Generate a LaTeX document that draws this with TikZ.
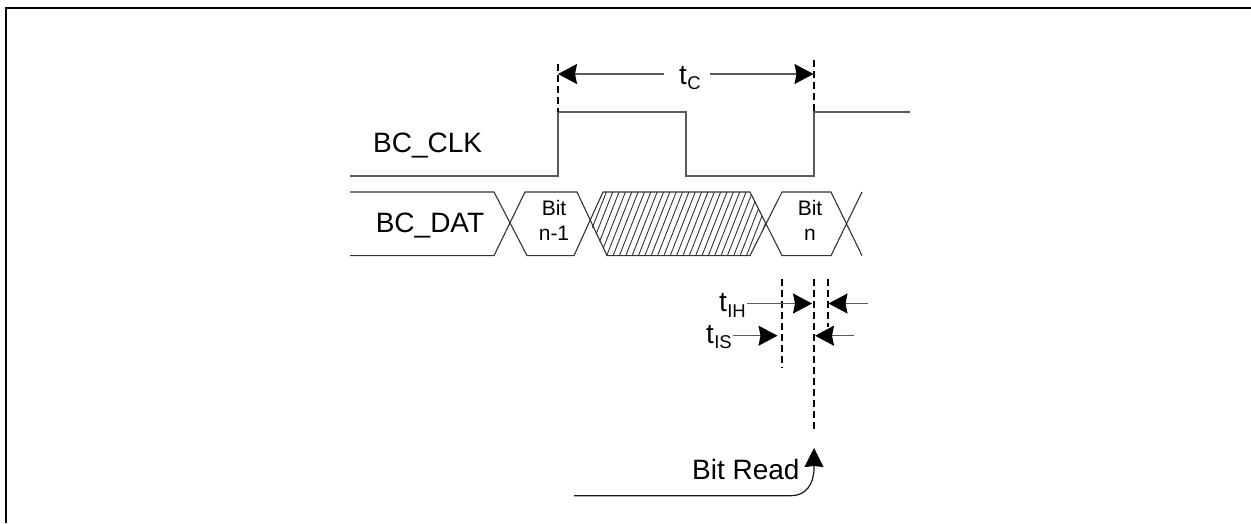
\documentclass[tikz,border=0pt]{standalone}
\usepackage{fontspec}
\setmainfont{Liberation Sans}
\usetikzlibrary{arrows.meta}
\newcommand{\bigfont}{\fontsize{28}{30}\selectfont}
\newcommand{\smallfont}{\fontsize{21}{25}\selectfont}
\newcommand{\subfont}{\fontsize{18.5}{20}\selectfont}
\newcommand{\tsub}[1]{\bigfont t\kern0.3pt\raisebox{-5.5pt}{\subfont #1}}
\tikzset{
  x=1pt,y=-1pt,
  wave/.style={draw=black!65,line width=1.5pt},
  dataline/.style={draw=black!80,line width=1.1pt},
  hatchline/.style={draw=black!80,line width=0.9pt},
  guide/.style={draw=black,line width=1.6pt,dash pattern=on 7pt off 4pt},
  dimarrow/.style={draw=black!65,line width=1.4pt,-{Stealth[length=19pt,width=20pt,inset=2pt,black]}},
  plainlabel/.style={inner sep=0pt,anchor=base},
}
\begin{document}
\begin{tikzpicture}[line join=miter]
\useasboundingbox (0,0) rectangle (1251,523);
\coordinate (fa) at (6,523); \coordinate (fb) at (6,8); \coordinate (fc) at (1251,8);
\draw[black,line width=2pt] (fa) -- (fb) -- (fc);
% clock
\draw[wave] (350,176) -- (558,176) -- (558,112) -- (686,112) -- (686,176) -- (814,176) -- (814,112) -- (910,112);
\node[plainlabel,anchor=base west] (clk) at (373,152) {\bigfont BC\_CLK};
% data
\begin{scope}
\clip (590,223.5) -- (603,192) -- (750,192) -- (766,223.5) -- (750,255.6) -- (607,255.6) -- cycle;
\foreach \i in {0,...,34} {
  \draw[hatchline] ({575+\i*6.35},255.6) -- ({600+\i*6.35},192);
}
\end{scope}
\draw[dataline] (350,192) -- (494,192) -- (527,255.6) -- (574,255.6) -- (603,192) -- (750,192) -- (782,255.6) -- (831,255.6) -- (862,192);
\draw[dataline] (350,255.6) -- (494,255.6) -- (525,192) -- (577,192) -- (607,255.6) -- (750,255.6) -- (782,192) -- (831,192) -- (862,255.6);
\node[plainlabel] (dat) at (430,232) {\bigfont BC\_DAT};
\node[plainlabel] (bit1a) at (554,215) {\smallfont Bit};
\node[plainlabel] (bit1b) at (554,240) {\smallfont n-1};
\node[plainlabel] (bit2a) at (810,215) {\smallfont Bit};
\node[plainlabel] (bit2b) at (810,240) {\smallfont n};
% guides
\coordinate (g1t) at (558,64);  \coordinate (g1b) at (558,112);
\coordinate (g2t) at (814,60);  \coordinate (g2b) at (814,112);
\coordinate (g3t) at (782,279); \coordinate (g3b) at (782,368);
\coordinate (g4t) at (814,279); \coordinate (g4b) at (814,430);
\coordinate (g5t) at (828,279); \coordinate (g5b) at (828,327);
\foreach \a/\b in {g1t/g1b,g2t/g2b,g3t/g3b,g4t/g4b,g5t/g5b} \draw[guide] (\a) -- (\b);
% tC
\node[plainlabel,anchor=base west] (tc) at (679,84) {\tsub{C}};
\coordinate (tcl) at (664,74); \coordinate (tcr) at (710,74);
\coordinate (tclt) at (558,74); \coordinate (tcrt) at (813.5,74);
\draw[dimarrow] (tcl) -- (tclt);
\draw[dimarrow] (tcr) -- (tcrt);
% tIH
\node[plainlabel,anchor=base west] (tih) at (719,311.7) {\tsub{IH}};
\coordinate (ihs) at (747,303.5); \coordinate (ihe) at (812,303.5);
\coordinate (irs) at (868,303.5); \coordinate (ire) at (828.5,303.5);
\draw[dimarrow] (ihs) -- (ihe);
\draw[dimarrow] (irs) -- (ire);
% tIS
\node[plainlabel,anchor=base west] (tis) at (706,343) {\tsub{IS}};
\coordinate (iss) at (733,335.7); \coordinate (ise) at (777.5,335.7);
\coordinate (jrs) at (854,335.7); \coordinate (jre) at (815,335.7);
\draw[dimarrow] (iss) -- (ise);
\draw[dimarrow] (jrs) -- (jre);
% bit read
\node[plainlabel,anchor=base west] (read) at (692,479) {\bigfont Bit Read};
\coordinate (rs) at (574,495.7); \coordinate (rm) at (791,495.7); \coordinate (rt) at (814,448);
\draw[line width=1.2pt,draw=black!90,-{Stealth[length=19pt,width=19pt,inset=1pt,black]}]
  (rs) -- (rm) .. controls (806,495.7) and (814,484) .. (814,468) -- (rt);
\end{tikzpicture}
\end{document}
